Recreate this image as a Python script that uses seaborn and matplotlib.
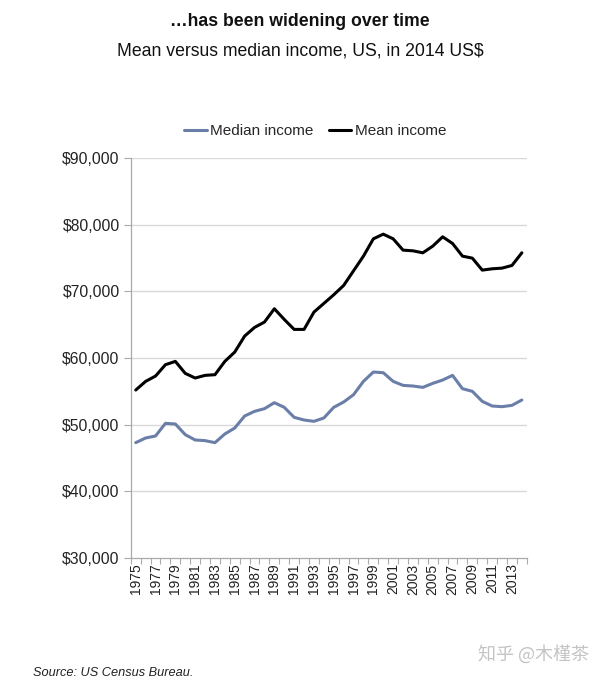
import numpy as np
import pandas as pd
import matplotlib
matplotlib.use('Agg')
import matplotlib.pyplot as plt
import seaborn as sns
from matplotlib.ticker import FuncFormatter, MultipleLocator
from matplotlib.lines import Line2D

# 数据 (US Census Bureau, 2014 US$)
years = list(range(1975, 2015))
median_income = [47300, 48000, 48300, 50200, 50100, 48500, 47700, 47600, 47300, 48600,
                 49500, 51300, 52000, 52400, 53300, 52600, 51100, 50700, 50500, 51000,
                 52600, 53400, 54500, 56500, 57900, 57800, 56500, 55900, 55800, 55600,
                 56200, 56700, 57400, 55400, 55000, 53500, 52800, 52700, 52900, 53700]
mean_income = [55200, 56500, 57300, 59000, 59500, 57700, 57000, 57400, 57500, 59500,
               60900, 63300, 64600, 65400, 67400, 65800, 64300, 64300, 66900, 68200,
               69500, 70900, 73100, 75300, 77900, 78600, 77900, 76200, 76100, 75800,
               76800, 78200, 77200, 75300, 75000, 73200, 73400, 73500, 73900, 75800]

df = pd.DataFrame({'Year': years, 'Median income': median_income, 'Mean income': mean_income})
long_df = df.melt(id_vars='Year', var_name='Series', value_name='Income')

sns.set_theme(style='white')
plt.rcParams['font.family'] = ['Liberation Sans', 'Noto Sans CJK SC', 'DejaVu Sans']

fig = plt.figure(figsize=(6.0, 6.82), dpi=100)
ax = fig.add_axes([0.218, 0.182, 0.660, 0.586])

sns.lineplot(data=long_df, x='Year', y='Income', hue='Series',
             palette={'Median income': '#6a7ea8', 'Mean income': '#000000'},
             linewidth=2.2, ax=ax, legend=False)

ax.set_xlim(1974.5, 2014.5)
ax.set_ylim(30000, 90000)
ax.yaxis.set_major_locator(MultipleLocator(10000))
ax.yaxis.set_major_formatter(FuncFormatter(lambda v, p: f'${v:,.0f}'))
ax.set_xticks(years[::2])
ax.set_xticklabels([str(y) for y in years[::2]], rotation=90)
ax.set_xticks(np.arange(1974.5, 2015, 1), minor=True)
ax.tick_params(axis='x', which='major', length=0, pad=4, labelsize=10, colors='#222222')
ax.tick_params(axis='x', which='minor', length=4, color='#aaaaaa', width=0.8, direction='out', bottom=True)
ax.tick_params(axis='y', which='major', length=5, color='#aaaaaa', width=0.8, direction='out',
               left=True, labelsize=11.3, colors='#222222', pad=3)
ax.set_xlabel('')
ax.set_ylabel('')

for v in range(40000, 90001, 10000):
    ax.axhline(v, color='#d9d9d9', linewidth=1.0, zorder=0)

for s in ['top', 'right']:
    ax.spines[s].set_visible(False)
for s in ['left', 'bottom']:
    ax.spines[s].set_color('#aaaaaa')
    ax.spines[s].set_linewidth(0.9)

# 图例
handles = [Line2D([], [], color='#6a7ea8', lw=2.2), Line2D([], [], color='#000000', lw=2.2)]
fig.legend(handles, ['Median income', 'Mean income'], loc='center', bbox_to_anchor=(0.525, 0.808),
           ncol=2, frameon=False, fontsize=11, handlelength=1.5, handletextpad=0.2, columnspacing=1.0)

fig.text(0.5, 0.969, '…has been widening over time', ha='center', va='center',
         fontsize=12.7, fontweight='bold', color='#111111')
fig.text(0.5, 0.925, 'Mean versus median income, US, in 2014 US$', ha='center', va='center',
         fontsize=12.7, color='#111111')
fig.text(0.055, 0.004, 'Source: US Census Bureau.', ha='left', va='bottom',
         fontsize=9.2, style='italic', color='#222222')
fig.text(0.982, 0.027, '知乎 @木槿茶', ha='right', va='bottom', fontsize=13,
         color='#c4c4c4', family=['Noto Sans CJK SC', 'DejaVu Sans'])

fig.savefig('out.png', dpi=100)
